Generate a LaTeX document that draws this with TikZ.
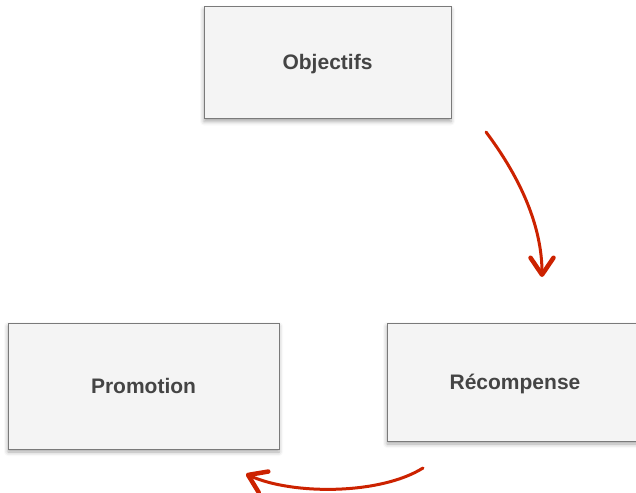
\documentclass[tikz,border=0pt]{standalone}
\usepackage{fontspec}
\setmainfont{Liberation Sans}
\usetikzlibrary{arrows.meta,shadows.blur}
\definecolor{boxfill}{HTML}{F4F4F4}
\definecolor{boxline}{HTML}{7A7A7A}
\definecolor{boxtext}{HTML}{444444}
\definecolor{flow}{HTML}{CC2200}
\tikzset{
  stage/.style={draw=boxline, line width=1pt, fill=boxfill, rectangle,
    text=boxtext, font=\fontsize{21}{25}\selectfont\bfseries,
    text height=15pt, text depth=0pt,
    blur shadow={shadow xshift=0pt, shadow yshift=-3pt, shadow blur radius=4pt, shadow opacity=35}},
  flowarrow/.style={draw=flow, line width=3pt, line cap=round,
    -{Straight Barb[length=17pt, width=23pt, line width=4.5pt, round]}}
}
\begin{document}
\begin{tikzpicture}[x=1pt, y=-1pt]
\useasboundingbox (0,0) rectangle (636,492);
\node[stage, minimum width=247pt, minimum height=112pt] (obj) at (327.5,62.5) {Objectifs};
\node[stage, minimum width=271pt, minimum height=126pt] (promo) at (143.5,386) {Promotion};
\node[stage, minimum width=256pt, minimum height=118pt] (reco) at (515,382) {Récompense};
% free ends of the two curved connectors
\coordinate (s1) at (486,132);
\coordinate (e1) at (542,277);
\coordinate (s2) at (423,468);
\coordinate (e2) at (246,474);
\draw[flowarrow] (s1) .. controls (522,180) and (542,228) .. (e1);
\draw[flowarrow] (s2) .. controls (380,495) and (292,495) .. (e2);
\end{tikzpicture}
\end{document}
